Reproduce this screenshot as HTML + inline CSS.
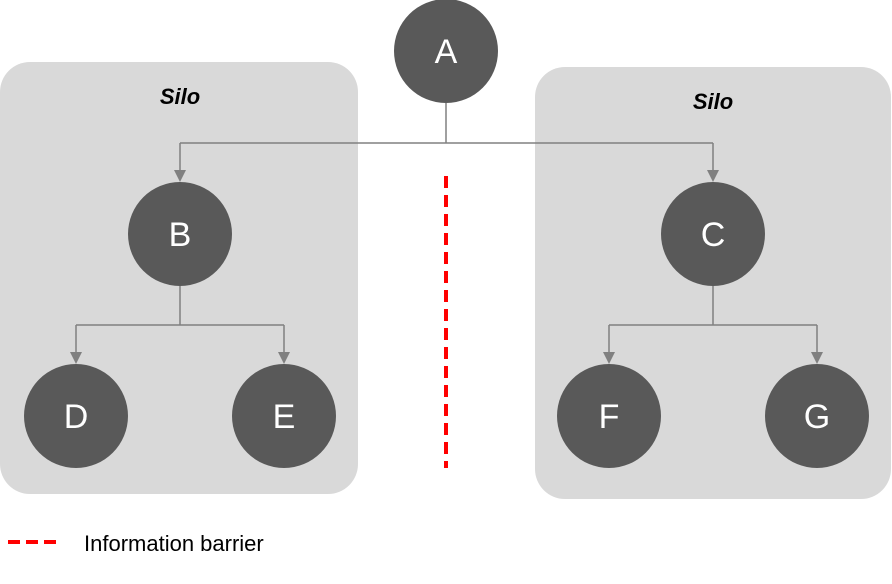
<!DOCTYPE html>
<html><head><meta charset="utf-8"><style>
html,body{margin:0;padding:0;background:#fff;}
svg{display:block;}
text{font-family:"Liberation Sans",Arial,sans-serif;}
</style></head><body>
<svg width="892" height="584" viewBox="0 0 892 584" xmlns="http://www.w3.org/2000/svg">
<rect x="0" y="62" width="358" height="432" rx="30" fill="#d9d9d9"/>
<rect x="535" y="67" width="356" height="432" rx="30" fill="#d9d9d9"/>
<text x="180" y="104" font-size="22" font-weight="bold" font-style="italic" text-anchor="middle" fill="#000">Silo</text>
<text x="713" y="109" font-size="22" font-weight="bold" font-style="italic" text-anchor="middle" fill="#000">Silo</text>
<g stroke="#808080" stroke-width="1.5" fill="none">
<path d="M446 103 V143 M180 143 H713 M180 143 V172 M713 143 V172"/>
<path d="M180 286 V325 M76 325 H284 M76 325 V354 M284 325 V354"/>
<path d="M713 286 V325 M609 325 H817 M609 325 V354 M817 325 V354"/>
</g>
<g fill="#808080">
<polygon points="174,170 186,170 180,182"/>
<polygon points="707,170 719,170 713,182"/>
<polygon points="70,352 82,352 76,364"/>
<polygon points="278,352 290,352 284,364"/>
<polygon points="603,352 615,352 609,364"/>
<polygon points="811,352 823,352 817,364"/>
</g>
<line x1="446" y1="176" x2="446" y2="468" stroke="#ff0000" stroke-width="4" stroke-dasharray="12,7"/>
<g fill="#595959">
<circle cx="446" cy="51" r="52"/>
<circle cx="180" cy="234" r="52"/>
<circle cx="713" cy="234" r="52"/>
<circle cx="76" cy="416" r="52"/>
<circle cx="284" cy="416" r="52"/>
<circle cx="609" cy="416" r="52"/>
<circle cx="817" cy="416" r="52"/>
</g>
<g fill="#fff" font-size="34" text-anchor="middle">
<text x="446" y="63">A</text>
<text x="180" y="246">B</text>
<text x="713" y="246">C</text>
<text x="76" y="428">D</text>
<text x="284" y="428">E</text>
<text x="609" y="428">F</text>
<text x="817" y="428">G</text>
</g>
<line x1="8" y1="542" x2="56" y2="542" stroke="#ff0000" stroke-width="4" stroke-dasharray="12,6"/>
<text x="84" y="551" font-size="22" fill="#000">Information barrier</text>
</svg>
</body></html>
